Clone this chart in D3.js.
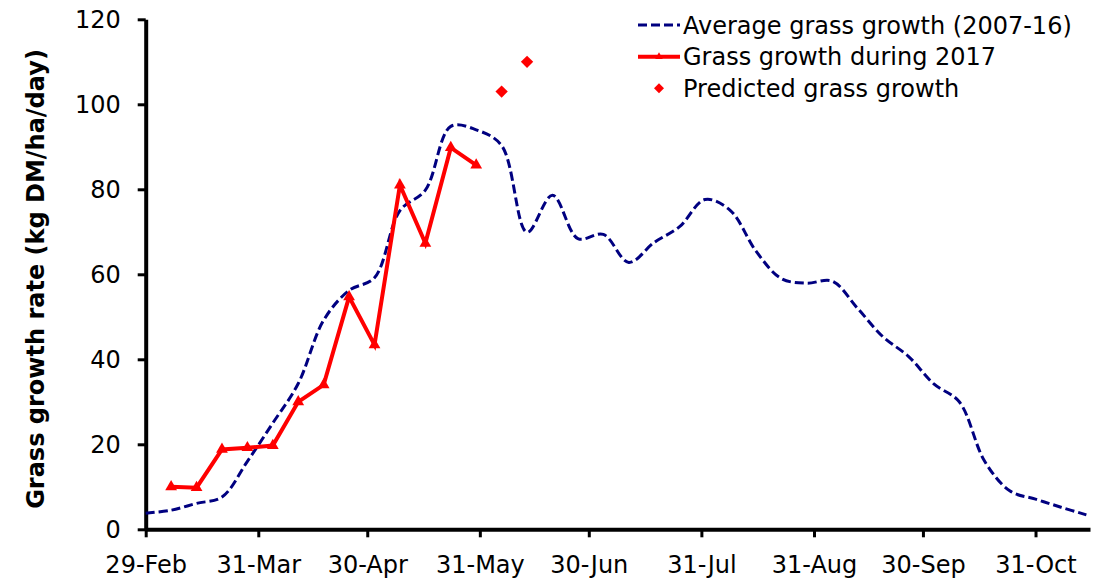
<!DOCTYPE html>
<html>
<head>
<meta charset="utf-8">
<script src="https://cdn.jsdelivr.net/npm/d3@7"></script>
<style>
  html, body { margin: 0; padding: 0; background: #fff; }
  svg { display: block; }
  text { font-family: "DejaVu Sans", Verdana, sans-serif; fill: #000; }
</style>
</head>
<body>
<svg id="chart" width="1097" height="580"></svg>
<script>
// ---- data ----
const avgDates = ["2016-02-29","2016-03-07","2016-03-14","2016-03-21","2016-03-28","2016-04-04","2016-04-11","2016-04-18","2016-04-25","2016-05-02","2016-05-09","2016-05-16","2016-05-23","2016-05-30","2016-06-06","2016-06-13","2016-06-20","2016-06-27","2016-07-04","2016-07-11","2016-07-18","2016-07-25","2016-08-01","2016-08-08","2016-08-15","2016-08-22","2016-08-29","2016-09-05","2016-09-12","2016-09-19","2016-09-26","2016-10-03","2016-10-10","2016-10-17","2016-10-24","2016-10-31","2016-11-07","2016-11-14"];
const avgValues = [3.8, 4.5, 6.1, 7.6, 16, 25, 34.3, 49.2, 56.2, 59.2, 75, 79.8, 94.8, 94, 90.3, 69.9, 78.6, 68.4, 69.4, 62.8, 67.5, 71.2, 77.6, 75, 65.5, 59, 57.9, 58.4, 52, 45.3, 40.7, 34.2, 30, 16, 9, 7.1, 5.2, 3.4];

const growthDates = ["2016-03-07","2016-03-14","2016-03-21","2016-03-28","2016-04-04","2016-04-11","2016-04-18","2016-04-25","2016-05-02","2016-05-09","2016-05-16","2016-05-23","2016-05-30"];
const growthValues = [10, 9.8, 18.8, 19.2, 19.7, 30, 34, 54.7, 43.4, 81, 67.3, 89.8, 85.7];

const predictedDates = ["2016-06-06","2016-06-13"];
const predictedValues = [103, 110];

const xTickDates = ["2016-02-29","2016-03-31","2016-04-30","2016-05-31","2016-06-30","2016-07-31","2016-08-31","2016-09-30","2016-10-31"];
const yTicks = [0, 20, 40, 60, 80, 100, 120];

const legendLabels = ["Average grass growth (2007-16)", "Grass growth during 2017", "Predicted grass growth"];
const yTitle = "Grass growth rate (kg DM/ha/day)";

// ---- layout ----
const parse = d3.utcParse("%Y-%m-%d");
const svg = d3.select("#chart");
const plotLeft = 145.7, plotRight = 1090, plotTop = 19.3, plotBottom = 529.3;

const x = d3.scaleUtc()
  .domain([parse("2016-02-29"), parse("2016-11-15")])
  .range([plotLeft, plotRight]);
const y = d3.scaleLinear().domain([0, 120]).range([plotBottom, plotTop]);

const avg = avgDates.map((d, i) => ({ date: parse(d), v: avgValues[i] }));
const growth = growthDates.map((d, i) => ({ date: parse(d), v: growthValues[i] }));
const predicted = predictedDates.map((d, i) => ({ date: parse(d), v: predictedValues[i] }));

// ---- axes ----
const xAxis = d3.axisBottom(x)
  .tickValues(xTickDates.map(parse))
  .tickFormat(d3.utcFormat("%d-%b"))
  .tickSize(8).tickSizeOuter(0);
const gx = svg.append("g").attr("transform", `translate(0,${plotBottom})`).call(xAxis);
gx.select(".domain").attr("stroke", "#000").attr("stroke-width", 4);
gx.selectAll(".tick line").attr("stroke", "#000").attr("stroke-width", 3);
gx.selectAll(".tick text").attr("y", 44).attr("dy", null)
  .style("font-size", "24px").style("font-family", "'DejaVu Sans', Verdana, sans-serif").attr("fill", "#000");

const yAxis = d3.axisLeft(y).tickValues(yTicks).tickSize(8).tickSizeOuter(0);
const gy = svg.append("g").attr("transform", `translate(${plotLeft},0)`).call(yAxis);
gy.select(".domain").attr("stroke", "#000").attr("stroke-width", 4);
gy.selectAll(".tick line").attr("stroke", "#000").attr("stroke-width", 3);
gy.selectAll(".tick text").attr("x", -25).attr("dy", "0.36em")
  .style("font-size", "24px").style("font-family", "'DejaVu Sans', Verdana, sans-serif").attr("fill", "#000");

svg.append("text")
  .attr("transform", `translate(44,279) rotate(-90)`)
  .attr("text-anchor", "middle")
  .style("font-size", "24px").style("font-weight", "bold")
  .text(yTitle);

// ---- series ----
const avgLine = d3.line().x(d => x(d.date)).y(d => y(d.v)).curve(d3.curveCatmullRom.alpha(0.5));
svg.append("path").datum(avg)
  .attr("d", avgLine)
  .attr("fill", "none").attr("stroke", "#000080")
  .attr("stroke-width", 3).attr("stroke-dasharray", "9,4");

const growthLine = d3.line().x(d => x(d.date)).y(d => y(d.v));
svg.append("path").datum(growth)
  .attr("d", growthLine)
  .attr("fill", "none").attr("stroke", "#ff0000")
  .attr("stroke-width", 4).attr("stroke-linejoin", "miter");

const tri = d3.symbol().type(d3.symbolTriangle).size(60);
svg.selectAll(".tri").data(growth).join("path")
  .attr("class", "tri")
  .attr("d", tri)
  .attr("transform", d => `translate(${x(d.date)},${y(d.v)})`)
  .attr("fill", "#ff0000");

const diamond = d3.symbol().type(d3.symbolSquare).size(76);
svg.selectAll(".dia").data(predicted).join("path")
  .attr("class", "dia")
  .attr("d", diamond)
  .attr("transform", d => `translate(${x(d.date)},${y(d.v)}) rotate(45)`)
  .attr("fill", "#ff0000");

// ---- legend ----
const lg = svg.append("g");
const lx0 = 638, lx1 = 680, tx = 683;
const rows = [25, 56.7, 88.3];
lg.append("line").attr("x1", lx0).attr("x2", lx1).attr("y1", rows[0]).attr("y2", rows[0])
  .attr("stroke", "#000080").attr("stroke-width", 3).attr("stroke-dasharray", "9,4");
lg.append("line").attr("x1", lx0).attr("x2", lx1).attr("y1", rows[1]).attr("y2", rows[1])
  .attr("stroke", "#ff0000").attr("stroke-width", 4);
lg.append("path").attr("d", d3.symbol().type(d3.symbolTriangle).size(25))
  .attr("transform", `translate(${(lx0 + lx1) / 2},${rows[1]})`).attr("fill", "#ff0000");
lg.append("path").attr("d", d3.symbol().type(d3.symbolSquare).size(50))
  .attr("transform", `translate(${(lx0 + lx1) / 2},${rows[2]}) rotate(45)`).attr("fill", "#ff0000");
legendLabels.forEach((t, i) => {
  lg.append("text").attr("x", tx).attr("y", rows[i]).attr("dy", "0.36em")
    .style("font-size", "24px").text(t);
});
</script>
</body>
</html>
